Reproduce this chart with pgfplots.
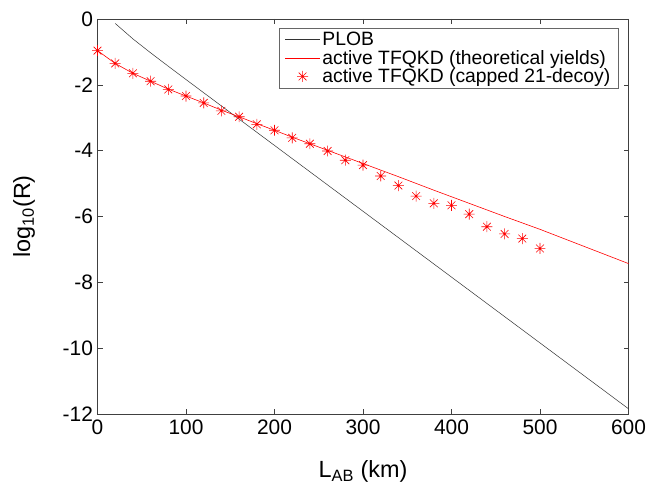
\documentclass[border=0pt]{standalone}
\usepackage{fontspec}
\setmainfont{Liberation Sans}
\usepackage{pgfplots}
\pgfplotsset{compat=1.18}

% MATLAB-like '*' marker: a plus and a cross on top of each other
\pgfdeclareplotmark{mstar}{%
  \pgfpathmoveto{\pgfpoint{-\pgfplotmarksize}{0pt}}\pgfpathlineto{\pgfpoint{\pgfplotmarksize}{0pt}}%
  \pgfpathmoveto{\pgfpoint{0pt}{-\pgfplotmarksize}}\pgfpathlineto{\pgfpoint{0pt}{\pgfplotmarksize}}%
  \pgfpathmoveto{\pgfpoint{-.7071\pgfplotmarksize}{-.7071\pgfplotmarksize}}\pgfpathlineto{\pgfpoint{.7071\pgfplotmarksize}{.7071\pgfplotmarksize}}%
  \pgfpathmoveto{\pgfpoint{-.7071\pgfplotmarksize}{.7071\pgfplotmarksize}}\pgfpathlineto{\pgfpoint{.7071\pgfplotmarksize}{-.7071\pgfplotmarksize}}%
  \pgfusepathqstroke}

\pgfplotstableread{
L    R
20   -0.135
40   -0.604
60   -1.027
80   -1.435
100  -1.839
120  -2.240
150  -2.841
200  -3.841
300  -5.841
400  -7.841
500  -9.841
600  -11.841
}\plob

\pgfplotstableread{
L    R
0    -0.96
20   -1.35
40   -1.65
60   -1.89
80   -2.13
100  -2.34
120  -2.55
140  -2.77
160  -2.97
180  -3.18
200  -3.38
220  -3.59
240  -3.79
260  -3.99
280  -4.19
300  -4.39
340  -4.79
380  -5.20
420  -5.60
460  -6.00
500  -6.39
550  -6.91
600  -7.43
}\theo

\pgfplotstableread{
L    R
0    -0.96
20   -1.35
40   -1.65
60   -1.89
80   -2.14
100  -2.34
120  -2.55
140  -2.79
160  -2.97
180  -3.20
200  -3.38
220  -3.61
240  -3.79
260  -4.01
280  -4.29
300  -4.44
320  -4.77
340  -5.06
360  -5.38
380  -5.60
400  -5.66
420  -5.93
440  -6.31
460  -6.53
480  -6.67
500  -6.97
}\capped

\begin{document}
\begin{tikzpicture}
\begin{axis}[
  scale only axis, width=531bp, height=395bp,
  xmin=0, xmax=600, ymin=-12, ymax=0,
  xtick={0,100,...,600}, xticklabels={0,100,200,300,400,500,600},
  ytick={-12,-10,...,0}, yticklabels={-12,-10,-8,-6,-4,-2,0},
  tick align=inside, major tick length=5bp,
  axis line style={black!75, line width=0.6pt},
  every tick/.style={black!75, line width=0.6pt},
  tick label style={font=\fontsize{21}{21}\selectfont},
  xticklabel style={yshift=-2bp},
  yticklabel style={xshift=-1bp},
  xlabel={L\textsubscript{AB} (km)},
  ylabel={log\textsubscript{10}(R)},
  every axis x label/.style={at={(axis description cs:0.5,-0.162)}, anchor=base,
    font=\fontsize{23.5}{23.5}\selectfont},
  every axis y label/.style={at={(axis description cs:-0.127,0.5)}, rotate=90, anchor=base,
    font=\fontsize{23.5}{23.5}\selectfont},
  legend style={at={(1,1)}, anchor=north east, xshift=-10bp, yshift=-9bp,
    draw=black!60, line width=0.5pt, font=\fontsize{19.4}{22.5}\selectfont,
    inner xsep=6bp, inner ysep=2bp, row sep=-1bp},
  legend cell align=left,
  legend image code/.code={\draw[mark repeat=2,mark phase=2] plot coordinates {(0bp,0bp) (17.5bp,0bp) (35bp,0bp)};},
]
\addplot[black!80, line width=0.5pt, no markers] table[x=L,y=R] {\plob};
\addlegendentry{PLOB}
\addplot[red, line width=0.6pt, no markers] table[x=L,y=R] {\theo};
\addlegendentry{active TFQKD (theoretical yields)}
\addplot[red, only marks, mark=mstar, mark size=5.5pt, mark options={line width=0.6pt}] table[x=L,y=R] {\capped};
\addlegendentry{active TFQKD (capped 21-decoy)}
\end{axis}
\pgfresetboundingbox
\path[use as bounding box] ([xshift=-97.5bp,yshift=-75bp]current axis.south west) rectangle ([xshift=21.5bp,yshift=19bp]current axis.north east);
\end{tikzpicture}
\end{document}
